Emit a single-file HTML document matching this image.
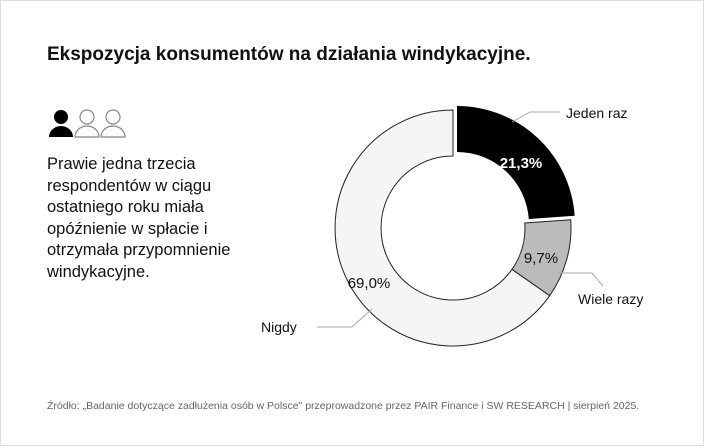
<!DOCTYPE html>
<html><head><style>
body{margin:0;width:704px;height:446px;background:#fff;font-family:"Liberation Sans",sans-serif;overflow:hidden;position:relative}
.frame{position:absolute;left:0;top:0;width:702px;height:444px;border:1px solid #ddd}
.t{position:absolute;left:47px;top:44px;font-size:19px;font-weight:bold;color:#111}
.b{position:absolute;left:47px;top:154px;font-size:16.5px;line-height:21.5px;color:#111}
.s{position:absolute;left:47px;top:400px;font-size:10.5px;color:#666}
</style></head><body>
<div class="frame"></div>
<div class="t">Ekspozycja konsumentów na działania windykacyjne.</div>
<svg style="position:absolute;left:0;top:0" width="704" height="446">
<g>
<circle cx="61" cy="117" r="7" fill="#000"/><path d="M49 137 a12 11 0 0 1 24 0 z" fill="#000"/>
<circle cx="87" cy="117" r="7" fill="none" stroke="#888" stroke-width="1.2"/><path d="M75 137 a12 11 0 0 1 24 0 z" fill="none" stroke="#888" stroke-width="1.2"/>
<circle cx="113" cy="117" r="7" fill="none" stroke="#888" stroke-width="1.2"/><path d="M101 137 a12 11 0 0 1 24 0 z" fill="none" stroke="#888" stroke-width="1.2"/>
</g>
<path d="M453 110 A118 118 0 1 0 549.7 295.7 L512 269.3 A72 72 0 1 1 453 156 Z" fill="#f5f5f5" stroke="#222" stroke-width="1"/>
<path d="M549.7 295.7 A118 118 0 0 0 570.7 219.8 L524.8 223 A72 72 0 0 1 512 269.3 Z" fill="#bbb" stroke="#222" stroke-width="1"/>
<g transform="translate(4,-4)">
<path d="M453 110 A118 118 0 0 1 570.7 219.8 L524.8 223 A72 72 0 0 0 453 156 Z" fill="#000"/>
</g>
<g fill="none" stroke="#aaa" stroke-width="1">
<polyline points="512,122 530,112 560,112"/>
<polyline points="558,273 592,273 603,286"/>
<polyline points="317,327 352,327 372,309"/>
</g>
<g font-family="Liberation Sans, sans-serif" font-size="15">
<text x="521" y="168" fill="#fff" font-weight="bold" text-anchor="middle">21,3%</text>
<text x="541" y="263" fill="#111" text-anchor="middle">9,7%</text>
<text x="369" y="288" fill="#111" text-anchor="middle">69,0%</text>
<text x="566" y="118" fill="#111" font-size="14">Jeden raz</text>
<text x="578" y="304" fill="#111" font-size="14">Wiele razy</text>
<text x="261" y="332" fill="#111" font-size="14">Nigdy</text>
</g>
</svg>
<div class="b">Prawie jedna trzecia<br>respondentów w ciągu<br>ostatniego roku miała<br>opóźnienie w spłacie i<br>otrzymała przypomnienie<br>windykacyjne.</div>
<div class="s">Źródło: „Badanie dotyczące zadłużenia osób w Polsce" przeprowadzone przez PAIR Finance i SW RESEARCH | sierpień 2025.</div>
</body></html>
